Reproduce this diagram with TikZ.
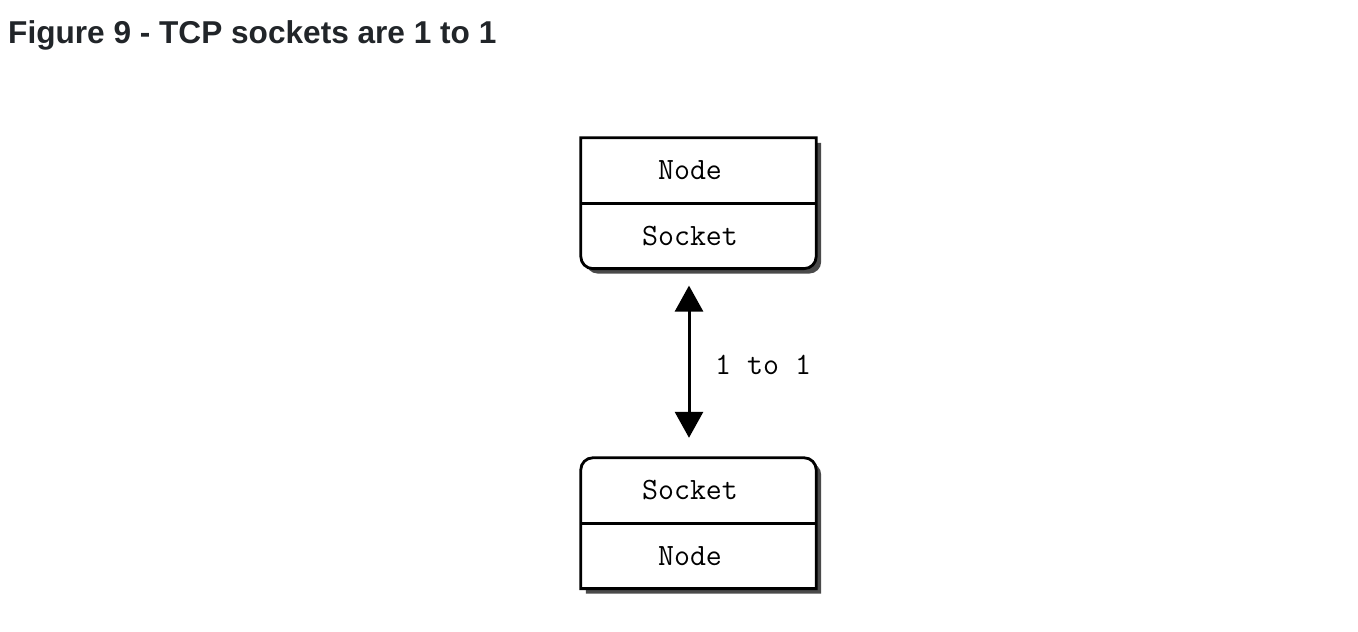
\documentclass[tikz,border=0pt]{standalone}
\usepackage{fontspec}
\setmainfont{Liberation Sans}
\usepackage{xcolor}
\usetikzlibrary{arrows.meta,calc,positioning,shadows}
\definecolor{titlegray}{HTML}{212529}
\definecolor{shadowgray}{HTML}{4A4A4A}

\begin{document}
\begin{tikzpicture}[x=1pt,y=1pt,>=Triangle,node distance=0pt,font=\ttfamily\fontsize{31}{36}\selectfont]
\tikzset{cell/.style={minimum width=235pt,minimum height=65pt,inner sep=0pt,align=center}}
\tikzset{outline/.style={line width=2.8pt,fill=white,drop shadow={shadow xshift=5pt,shadow yshift=-5pt,fill=shadowgray,opacity=1}}}
\useasboundingbox (0,0) rectangle (1358,-632);
\node[anchor=base west,font=\bfseries\fontsize{31.6}{36}\selectfont,text=titlegray,inner sep=0pt] (title) at (8,-43) {Figure 9 - TCP sockets are 1 to 1};
% upper box
\node[cell] (upnode) at (698.5,-170.5) {};
\node[cell,below=of upnode] (upsock) {};
\draw[outline] (upnode.north west) -- (upnode.north east) -- ([yshift=12pt]upsock.south east)
  arc[start angle=0,end angle=-90,radius=12pt] -- ([xshift=12pt]upsock.south west)
  arc[start angle=270,end angle=180,radius=12pt] -- cycle;
\draw[line width=2.8pt] (upnode.south west) -- (upnode.south east);
\node at ([xshift=-8.5pt]upnode.center) {Node};
\node at ([xshift=-8.5pt]upsock.center) {Socket};
% lower box
\node[cell] (lowsock) at (698.5,-490.5) {};
\node[cell,below=of lowsock] (lownode) {};
\draw[outline] (lownode.south west) -- (lownode.south east) -- ([yshift=-12pt]lowsock.north east)
  arc[start angle=0,end angle=90,radius=12pt] -- ([xshift=12pt]lowsock.north west)
  arc[start angle=90,end angle=180,radius=12pt] -- cycle;
\draw[line width=2.8pt] (lowsock.south west) -- (lowsock.south east);
\node at ([xshift=-8.5pt]lowsock.center) {Socket};
\node at ([xshift=-8.5pt]lownode.center) {Node};
% link
\draw[<->,line width=3pt,arrows={Triangle[width=28pt,length=26pt]-Triangle[width=28pt,length=26pt]},shorten <=17pt,shorten >=20pt]
  ([xshift=-9.5pt]upsock.south) -- ([xshift=-9.5pt]lowsock.north) coordinate[pos=0.5] (mid);
\node[anchor=west,inner sep=0pt] (ratio) at ([xshift=26pt,yshift=-2pt]mid) {1 to 1};
\end{tikzpicture}
\end{document}
